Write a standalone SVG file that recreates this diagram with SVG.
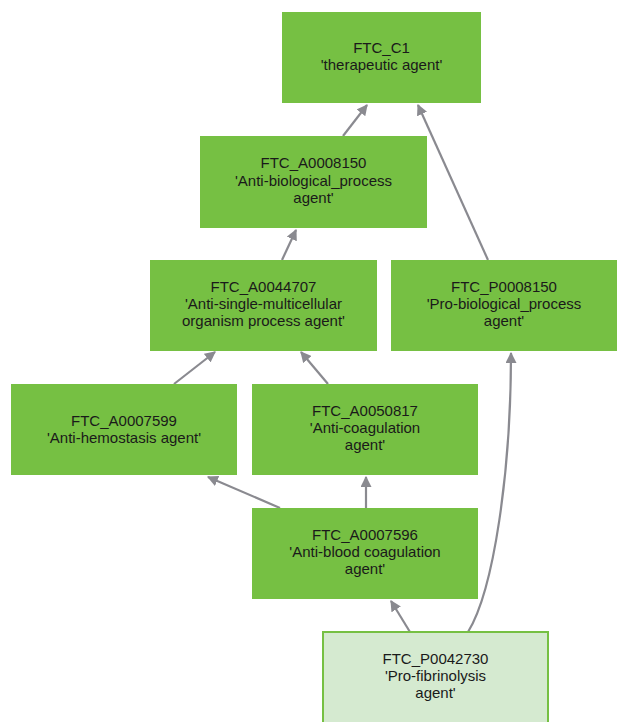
<svg xmlns="http://www.w3.org/2000/svg" width="617" height="722" viewBox="0 0 617 722">
<style>
.n{fill:#76c043;stroke:none}
.p{fill:#d5ead0;stroke:#76c043;stroke-width:2}
text{font-family:"Liberation Sans",Arial,sans-serif;font-size:15px;fill:#1a1a1a;text-anchor:middle}
.e{stroke:#8a8a90;stroke-width:2.2;fill:none;marker-end:url(#a)}
</style>
<defs>
<marker id="a" viewBox="0 0 10 10" refX="9" refY="5" markerWidth="5" markerHeight="5" orient="auto" markerUnits="strokeWidth">
<path d="M0,0 L10,5 L0,10 z" fill="#8a8a90"/>
</marker>
</defs>
<rect width="617" height="722" fill="#ffffff"/>
<g id="edges">
<line class="e" x1="343" y1="136" x2="367" y2="105"/>
<line class="e" x1="488" y1="260" x2="418" y2="105"/>
<line class="e" x1="282" y1="260" x2="296" y2="230"/>
<line class="e" x1="174" y1="384" x2="215" y2="352"/>
<line class="e" x1="328" y1="384" x2="301" y2="352"/>
<line class="e" x1="280" y1="508" x2="208" y2="477"/>
<line class="e" x1="366" y1="508" x2="366" y2="477"/>
<line class="e" x1="410" y1="632" x2="391" y2="601"/>
<path class="e" d="M468,632 C494,590 511,470 511,353"/>
</g>
<g id="FTC_C1"><rect class="n" x="282" y="12" width="199" height="91"/><text x="381.5" y="53">FTC_C1</text><text x="381.5" y="70">'therapeutic agent'</text></g>
<g id="FTC_A0008150"><rect class="n" x="200" y="136" width="227" height="92"/><text x="313.5" y="167.5">FTC_A0008150</text><text x="313.5" y="185.5">'Anti-biological_process</text><text x="313.5" y="202.5">agent'</text></g>
<g id="FTC_A0044707"><rect class="n" x="150" y="260" width="227" height="91"/><text x="263.5" y="291.5">FTC_A0044707</text><text x="263.5" y="309">'Anti-single-multicellular</text><text x="263.5" y="326">organism process agent'</text></g>
<g id="FTC_P0008150"><rect class="n" x="391" y="260" width="226" height="91"/><text x="504" y="291.5">FTC_P0008150</text><text x="504" y="309">'Pro-biological_process</text><text x="504" y="326">agent'</text></g>
<g id="FTC_A0007599"><rect class="n" x="11" y="384" width="226" height="91"/><text x="124" y="425.5">FTC_A0007599</text><text x="124" y="442.5">'Anti-hemostasis agent'</text></g>
<g id="FTC_A0050817"><rect class="n" x="252" y="384" width="226" height="91"/><text x="365" y="415.5">FTC_A0050817</text><text x="365" y="433">'Anti-coagulation</text><text x="365" y="450">agent'</text></g>
<g id="FTC_A0007596"><rect class="n" x="252" y="508" width="226" height="91"/><text x="365" y="539.5">FTC_A0007596</text><text x="365" y="557">'Anti-blood coagulation</text><text x="365" y="574">agent'</text></g>
<g id="FTC_P0042730"><rect class="p" x="323" y="632" width="225" height="92"/><text x="435.5" y="663.5">FTC_P0042730</text><text x="435.5" y="680.5">'Pro-fibrinolysis</text><text x="435.5" y="697.5">agent'</text></g>
</svg>
